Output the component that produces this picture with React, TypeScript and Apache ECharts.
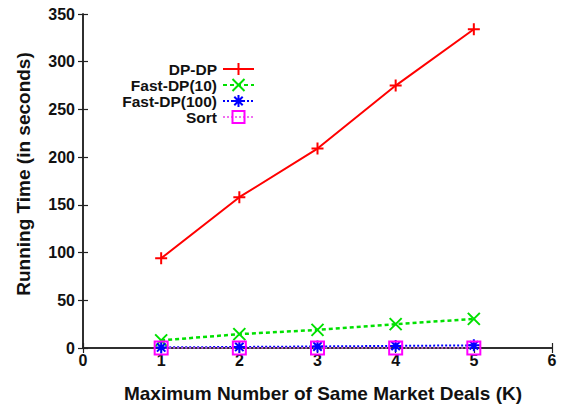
import React, { useEffect, useRef } from "react";
import * as echarts from "echarts";

// K values on the x axis
const kValues = [1, 2, 3, 4, 5];

// running times in seconds
const dpDp = [94, 158, 209, 275, 334];
const fastDp10 = [8, 14.5, 19, 25, 30.5];
const fastDp100 = [0.6, 1.1, 1.6, 2.2, 2.8];
const sortTimes = [0.1, 0.1, 0.1, 0.1, 0.1];

const seriesNames = ["DP-DP", "Fast-DP(10)", "Fast-DP(100)", "Sort"];

const FONT = "'Liberation Sans', Arial, Helvetica, sans-serif";

// gnuplot-like point shapes, stroked only
const PLUS = "path://M0,5L10,5M5,0L5,10";
const CROSS = "path://M0,0L10,10M0,10L10,0";
const STAR = "path://M0,5L10,5M5,0L5,10M1.5,1.5L8.5,8.5M1.5,8.5L8.5,1.5";
const SQUARE = "path://M0,0L10,0L10,10L0,10Z";

function pairs(vals: number[]) {
  return kValues.map((k, i) => [k, vals[i]]);
}

function lineSeries(
  name: string,
  vals: number[],
  color: string,
  symbol: string,
  size: number,
  lineType: any,
  lineWidth: number,
  lineColor?: string
) {
  return {
    name,
    type: "line",
    data: pairs(vals),
    color,
    symbol,
    symbolSize: size,
    showAllSymbol: true,
    lineStyle: { color: lineColor || color, width: lineWidth, type: lineType },
    itemStyle: { color: "rgba(0,0,0,0)", borderColor: color, borderWidth: 2 },
    emphasis: { disabled: true },
  };
}

export default function App() {
  const ref = useRef<HTMLDivElement>(null);

  useEffect(() => {
    if (!ref.current) return;
    const chart = echarts.init(ref.current, undefined, { renderer: "svg" });

    const axisLine = { show: true, lineStyle: { color: "#222", width: 1.5 } };
    const tick = { show: true, inside: true, length: 5, lineStyle: { color: "#222", width: 1.2 } };
    const label = { fontFamily: FONT, fontWeight: "bold", fontSize: 16, color: "#111" };

    chart.setOption({
      animation: false,
      backgroundColor: "#fff",
      textStyle: { fontFamily: FONT },
      grid: { left: 83, right: 25, top: 14, bottom: 58, containLabel: false },
      legend: {
        orient: "vertical",
        align: "right",
        right: 317,
        top: 56,
        itemWidth: 31,
        itemHeight: 15,
        itemGap: 0,
        data: seriesNames,
        selectedMode: false,
        textStyle: {
          fontFamily: FONT,
          fontWeight: "bold",
          fontSize: 15.5,
          lineHeight: 15.5,
          color: "#111",
          padding: [0, 1, 0, 0],
        },
      },
      xAxis: [
        {
          type: "value",
          min: 0,
          max: 6,
          interval: 1,
          position: "bottom",
          name: "Maximum Number of Same Market Deals (K)",
          nameLocation: "middle",
          nameGap: 36,
          nameTextStyle: { fontFamily: FONT, fontWeight: "bold", fontSize: 19, color: "#111", padding: [0, 0, 0, 11] },
          axisLine,
          axisTick: tick,
          axisLabel: { ...label, margin: 4 },
          splitLine: { show: false },
        },
        {
          type: "value",
          min: 0,
          max: 6,
          interval: 1,
          position: "top",
          axisLine,
          axisTick: tick,
          axisLabel: { show: false },
          splitLine: { show: false },
        },
      ],
      yAxis: [
        {
          type: "value",
          min: 0,
          max: 350,
          interval: 50,
          position: "left",
          name: "Running Time (in seconds)",
          nameLocation: "middle",
          nameGap: 50,
          nameRotate: 90,
          nameTextStyle: { fontFamily: FONT, fontWeight: "bold", fontSize: 19, color: "#111", padding: [0, 0, 0, 14] },
          axisLine,
          axisTick: tick,
          axisLabel: { ...label, margin: 8 },
          splitLine: { show: false },
        },
        {
          type: "value",
          min: 0,
          max: 350,
          interval: 50,
          position: "right",
          axisLine,
          axisTick: tick,
          axisLabel: { show: false },
          splitLine: { show: false },
        },
      ],
      series: [
        lineSeries(seriesNames[0], dpDp, "#ff0000", PLUS, 12, "solid", 2),
        lineSeries(seriesNames[1], fastDp10, "#00e000", CROSS, 12, [4, 3], 2.5),
        lineSeries(seriesNames[2], fastDp100, "#0000ff", STAR, 12, [2, 2], 2),
        lineSeries(seriesNames[3], sortTimes, "#ff00ff", SQUARE, 13, [2, 2], 1.5, "#f070f0"),
      ],
    });

    return () => chart.dispose();
  }, []);

  return (
    <div
      ref={ref}
      style={{ position: "fixed", left: 0, top: 0, width: 577, height: 408, background: "#fff" }}
    />
  );
}
